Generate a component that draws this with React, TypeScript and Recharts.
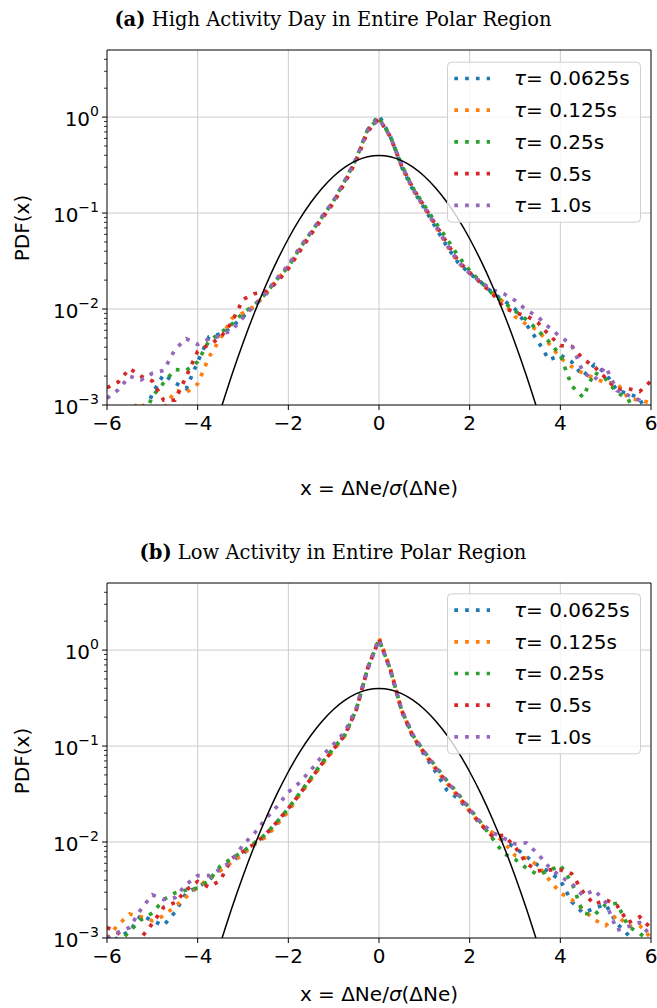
import React from 'react';
import { LineChart, Line, XAxis, YAxis, CartesianGrid, ReferenceLine } from 'recharts';

const xValues = [
  -6, -5.75, -5.5, -5.25, -5, -4.75, -4.5, -4.25, -4, -3.75, -3.5, -3.25, -3, -2.75, -2.5, -2.25, -2,
  -1.75, -1.5, -1.25, -1, -0.75, -0.5, -0.25, 0, 0.25, 0.5, 0.75, 1, 1.25, 1.5, 1.75, 2, 2.25, 2.5,
  2.75, 3, 3.25, 3.5, 3.75, 4, 4.25, 4.5, 4.75, 5, 5.25, 5.5, 5.75, 6,
];

const tauLabels = ['0.0625s', '0.125s', '0.25s', '0.5s', '1.0s'];
const seriesColors = ['#1f77b4', '#ff7f0e', '#2ca02c', '#d62728', '#9467bd'];

// standard normal reference curve (values read at the same x grid)
const gaussianPdf = [
  null, null, null, null, null, null, null, null, null, null,
  0.000873, 0.00203, 0.00443, 0.00909, 0.0175, 0.0317, 0.054, 0.0863, 0.1295, 0.1826, 0.242, 0.3011, 0.3521, 0.3867,
  0.3989,
  0.3867, 0.3521, 0.3011, 0.242, 0.1826, 0.1295, 0.0863, 0.054, 0.0317, 0.0175, 0.00909, 0.00443, 0.00203, 0.000873,
  null, null, null, null, null, null, null, null, null, null,
];

// log10(PDF)
const highBlueLog = [
  -3.3, -3.3, -3.1, -3.2, -2.88, -2.68, -2.77, -2.83, -2.55, -2.29, -2.26, -2.19, -2.08, -1.97, -1.85, -1.7, -1.56,
  -1.38, -1.21, -1.04, -0.88, -0.67, -0.44, -0.13, 0.02, -0.2, -0.52, -0.76, -0.95, -1.15, -1.35, -1.52, -1.63, -1.72, -1.83,
  -1.91, -2.0, -2.16, -2.33, -2.53, -2.48, -2.55, -2.7, -2.58, -2.67, -2.85, -2.88, -2.93, -3.2,
];
const highOrangeLog = [
  -3.2, -3.1, -3.05, -2.97, -3.2, -3.05, -2.85, -2.87, -2.78, -2.5, -2.31, -2.1, -2.04, -1.97, -1.84, -1.69, -1.57,
  -1.39, -1.22, -1.06, -0.89, -0.68, -0.45, -0.15, -0.01, -0.21, -0.52, -0.76, -0.95, -1.14, -1.34, -1.52, -1.62, -1.72, -1.83,
  -1.93, -2.08, -2.16, -2.22, -2.36, -2.51, -2.6, -2.67, -2.72, -2.77, -2.77, -2.93, -2.95, -2.98,
];
const highGreenLog = [
  -3.1, -3.05, -3.2, -3.2, -2.91, -2.77, -2.63, -2.64, -2.55, -2.33, -2.25, -2.16, -2.04, -1.96, -1.84, -1.69, -1.56,
  -1.37, -1.2, -1.04, -0.87, -0.66, -0.43, -0.13, -0.01, -0.2, -0.5, -0.74, -0.92, -1.1, -1.27, -1.45, -1.6, -1.72, -1.84,
  -1.93, -2.02, -2.11, -2.22, -2.34, -2.48, -2.8, -2.92, -2.66, -2.73, -2.87, -2.94, -3.2, -3.3,
];
const highRedLog = [
  -2.82, -2.76, -2.62, -2.7, -2.75, -2.95, -2.95, -2.7, -2.44, -2.37, -2.3, -2.14, -1.9, -1.84, -1.82, -1.72, -1.58,
  -1.4, -1.22, -1.05, -0.89, -0.68, -0.45, -0.15, -0.02, -0.2, -0.51, -0.74, -0.93, -1.12, -1.31, -1.5, -1.62, -1.73, -1.84,
  -1.98, -2.04, -2.07, -2.14, -2.27, -2.38, -2.39, -2.52, -2.6, -2.72, -2.84, -2.83, -2.86, -2.75,
];
const highPurpleLog = [
  -2.93, -2.84, -2.7, -2.74, -2.67, -2.64, -2.42, -2.31, -2.37, -2.31, -2.28, -2.22, -2.09, -1.96, -1.83, -1.68, -1.54,
  -1.36, -1.2, -1.03, -0.87, -0.66, -0.43, -0.14, -0.02, -0.2, -0.5, -0.75, -0.94, -1.13, -1.33, -1.51, -1.63, -1.72, -1.8,
  -1.84, -1.91, -2.01, -2.08, -2.19, -2.29, -2.37, -2.66, -2.74, -2.6, -2.85, -2.9, -2.95, -3.1,
];

// log10(PDF)
const lowBlueLog = [
  -3.1, -2.99, -2.93, -2.76, -2.82, -2.87, -2.73, -2.53, -2.47, -2.4, -2.28, -2.2, -2.12, -2.03, -1.93, -1.8, -1.66,
  -1.5, -1.34, -1.18, -1.03, -0.89, -0.62, -0.2, 0.11, -0.21, -0.64, -0.91, -1.09, -1.27, -1.46, -1.55, -1.68, -1.82, -1.93,
  -1.98, -2.06, -2.15, -2.24, -2.31, -2.4, -2.62, -2.74, -2.69, -2.65, -2.85, -2.97, -3.1, -3.2,
];
const lowOrangeLog = [
  -3.0, -2.86, -2.75, -2.78, -2.82, -2.77, -2.67, -2.57, -2.47, -2.38, -2.3, -2.21, -2.13, -2.02, -1.95, -1.82, -1.68,
  -1.51, -1.35, -1.19, -1.04, -0.89, -0.62, -0.18, 0.13, -0.19, -0.63, -0.9, -1.08, -1.24, -1.39, -1.53, -1.68, -1.82, -1.9,
  -2.0, -2.14, -2.17, -2.24, -2.39, -2.53, -2.6, -2.7, -2.81, -2.87, -2.76, -2.88, -2.87, -3.0,
];
const lowGreenLog = [
  -3.1, -3.05, -2.93, -2.81, -2.74, -2.6, -2.53, -2.5, -2.48, -2.4, -2.25, -2.17, -2.1, -2.01, -1.92, -1.79, -1.65,
  -1.49, -1.33, -1.17, -1.02, -0.88, -0.62, -0.19, 0.11, -0.2, -0.63, -0.89, -1.06, -1.21, -1.36, -1.5, -1.65, -1.8, -1.96,
  -2.12, -2.18, -2.27, -2.34, -2.3, -2.24, -2.42, -2.74, -2.76, -2.65, -2.64, -2.88, -2.95, -3.05,
];
const lowRedLog = [
  -2.89, -2.95, -3.05, -3.0, -2.85, -2.68, -2.63, -2.5, -2.41, -2.47, -2.4, -2.17, -2.1, -2.02, -1.92, -1.79, -1.65,
  -1.5, -1.34, -1.18, -1.03, -0.88, -0.62, -0.19, 0.11, -0.2, -0.63, -0.9, -1.07, -1.23, -1.38, -1.52, -1.67, -1.82, -1.94,
  -1.93, -2.05, -2.22, -2.3, -2.29, -2.29, -2.33, -2.52, -2.65, -2.6, -2.66, -2.84, -2.78, -2.9,
];
const lowPurpleLog = [
  -3.0, -2.94, -2.89, -2.7, -2.55, -2.6, -2.58, -2.44, -2.35, -2.35, -2.28, -2.2, -2.03, -1.91, -1.76, -1.63, -1.48,
  -1.38, -1.25, -1.1, -0.98, -0.85, -0.6, -0.19, 0.11, -0.2, -0.62, -0.88, -1.06, -1.22, -1.37, -1.51, -1.66, -1.8, -1.9,
  -1.96, -2.02, -2.01, -2.12, -2.26, -2.36, -2.43, -2.56, -2.5, -2.63, -2.92, -2.88, -2.84, -2.98,
];

const xTicks = [-6, -4, -2, 0, 2, 4, 6];
const yMajorTicks = [0.001, 0.01, 0.1, 1];
const yMinorTicks = [
  0.002, 0.003, 0.004, 0.005, 0.006, 0.007, 0.008, 0.009,
  0.02, 0.03, 0.04, 0.05, 0.06, 0.07, 0.08, 0.09,
  0.2, 0.3, 0.4, 0.5, 0.6, 0.7, 0.8, 0.9,
  2, 3, 4,
];
const yAllTicks = [...yMajorTicks, ...yMinorTicks].sort((a, b) => a - b);

const FONT = 'DejaVu Sans';
const DOT_W = 3.7;
const DOT_DASH = '3.7 7.1';

const buildRows = (logs: number[][]) =>
  xValues.map((x, i) => {
    const row: Record<string, number | null> = { x, g: gaussianPdf[i] };
    logs.forEach((arr, k) => {
      row['s' + k] = Math.pow(10, arr[i]);
    });
    return row;
  });

const highRows = buildRows([highBlueLog, highOrangeLog, highGreenLog, highRedLog, highPurpleLog]);
const lowRows = buildRows([lowBlueLog, lowOrangeLog, lowGreenLog, lowRedLog, lowPurpleLog]);

const XTick = (props: any) => {
  const { x, y, payload } = props;
  const v = payload.value as number;
  const label = v < 0 ? '\u2212' + Math.abs(v) : String(v);
  return (
    <g>
      <line x1={x} x2={x} y1={y} y2={y + 5} stroke="#000" strokeWidth={1} />
      <text x={x} y={y + 25} textAnchor="middle" fontFamily={FONT} fontSize={20} fill="#000">
        {label}
      </text>
    </g>
  );
};

const YTick = (props: any) => {
  const { x, y, payload } = props;
  const v = payload.value as number;
  const lg = Math.log10(v);
  const e = Math.round(lg);
  const major = Math.abs(lg - e) < 1e-6;
  if (!major) {
    return <line x1={x - 3} x2={x} y1={y} y2={y} stroke="#000" strokeWidth={0.8} />;
  }
  const exp = e < 0 ? '\u2212' + Math.abs(e) : String(e);
  return (
    <g>
      <line x1={x - 5} x2={x} y1={y} y2={y} stroke="#000" strokeWidth={1} />
      <text x={x - 8} y={y + 9} textAnchor="end" fontFamily={FONT} fontSize={20} fill="#000">
        <tspan>10</tspan>
        <tspan dy={-10} fontSize={14}>{exp}</tspan>
      </text>
    </g>
  );
};

function Panel({ rows, top }: { rows: any[]; top: number }) {
  return (
    <div style={{ position: 'absolute', left: 0, top, width: 657, height: 445 }}>
      <LineChart width={657} height={445} data={rows} margin={{ top: 50, right: 6, bottom: 0, left: 0 }}>
        <CartesianGrid
          stroke="#cccccc"
          strokeWidth={1}
          horizontalValues={[0.01, 0.1, 1]}
          verticalValues={[-4, -2, 0, 2, 4]}
        />
        <XAxis
          type="number"
          dataKey="x"
          domain={[-6, 6]}
          ticks={xTicks}
          interval={0}
          height={40}
          tickSize={0}
          tickMargin={0}
          tickLine={false}
          tick={<XTick />}
          axisLine={{ stroke: '#000', strokeWidth: 1 }}
          allowDataOverflow
        />
        <YAxis
          type="number"
          scale="log"
          domain={[0.001, 5]}
          ticks={yAllTicks}
          interval={0}
          width={107}
          tickSize={0}
          tickMargin={0}
          tickLine={false}
          tick={<YTick />}
          axisLine={{ stroke: '#000', strokeWidth: 1 }}
          allowDataOverflow
        />
        {seriesColors.map((c, k) => (
          <Line
            key={k}
            type="linear"
            dataKey={'s' + k}
            stroke={c}
            strokeWidth={DOT_W}
            strokeDasharray={DOT_DASH}
            strokeLinecap="butt"
            dot={false}
            activeDot={false}
            isAnimationActive={false}
          />
        ))}
        <Line
          type="monotone"
          dataKey="g"
          stroke="#000"
          strokeWidth={1.5}
          dot={false}
          activeDot={false}
          connectNulls={false}
          isAnimationActive={false}
        />
        <ReferenceLine y={5} stroke="#000" strokeWidth={1} />
        <ReferenceLine x={6} stroke="#000" strokeWidth={1} />
      </LineChart>
    </div>
  );
}

function LegendBox({ left, top }: { left: number; top: number }) {
  return (
    <g transform={`translate(${left},${top})`}>
      <rect x={0.5} y={0.5} width={193} height={160} rx={4} fill="#fff" fillOpacity={0.8} stroke="#d0d0d0" strokeWidth={1} />
      {tauLabels.map((t, i) => {
        const cy = 16.8 + 31.7 * i;
        return (
          <g key={t}>
            <line
              x1={7.3}
              x2={43}
              y1={cy}
              y2={cy}
              stroke={seriesColors[i]}
              strokeWidth={DOT_W}
              strokeDasharray={DOT_DASH}
            />
            <text x={67} y={cy + 7} fontFamily={FONT} fontSize={20} fill="#000">
              <tspan fontStyle="italic">τ</tspan>
              <tspan>= {t}</tspan>
            </text>
          </g>
        );
      })}
    </g>
  );
}

export default function App() {
  return (
    <div style={{ position: 'absolute', left: 0, top: 0, width: 657, height: 1008, background: '#fff', overflow: 'hidden' }}>
      <Panel rows={highRows} top={0} />
      <Panel rows={lowRows} top={533.3} />
      <svg
        width={657}
        height={1008}
        style={{ position: 'absolute', left: 0, top: 0, pointerEvents: 'none' }}
      >
        <text x={333} y={26} textAnchor="middle" fontFamily="DejaVu Serif" fontSize={19.5} fill="#000">
          <tspan fontWeight="bold">(a)</tspan>
          <tspan> High Activity Day in Entire Polar Region</tspan>
        </text>
        <text x={333} y={559} textAnchor="middle" fontFamily="DejaVu Serif" fontSize={19.5} fill="#000">
          <tspan fontWeight="bold">(b)</tspan>
          <tspan> Low Activity in Entire Polar Region</tspan>
        </text>

        <text x={379} y={495} textAnchor="middle" fontFamily={FONT} fontSize={20} fill="#000">
          <tspan>x = ΔNe/</tspan>
          <tspan fontStyle="italic">σ</tspan>
          <tspan>(ΔNe)</tspan>
        </text>
        <text x={379} y={1001} textAnchor="middle" fontFamily={FONT} fontSize={20} fill="#000">
          <tspan>x = ΔNe/</tspan>
          <tspan fontStyle="italic">σ</tspan>
          <tspan>(ΔNe)</tspan>
        </text>

        <text transform="translate(29,228) rotate(-90)" textAnchor="middle" fontFamily={FONT} fontSize={20} fill="#000">
          PDF(x)
        </text>
        <text transform="translate(29,761) rotate(-90)" textAnchor="middle" fontFamily={FONT} fontSize={20} fill="#000">
          PDF(x)
        </text>

        <LegendBox left={447} top={61.7} />
        <LegendBox left={447} top={593.3} />
      </svg>
    </div>
  );
}
